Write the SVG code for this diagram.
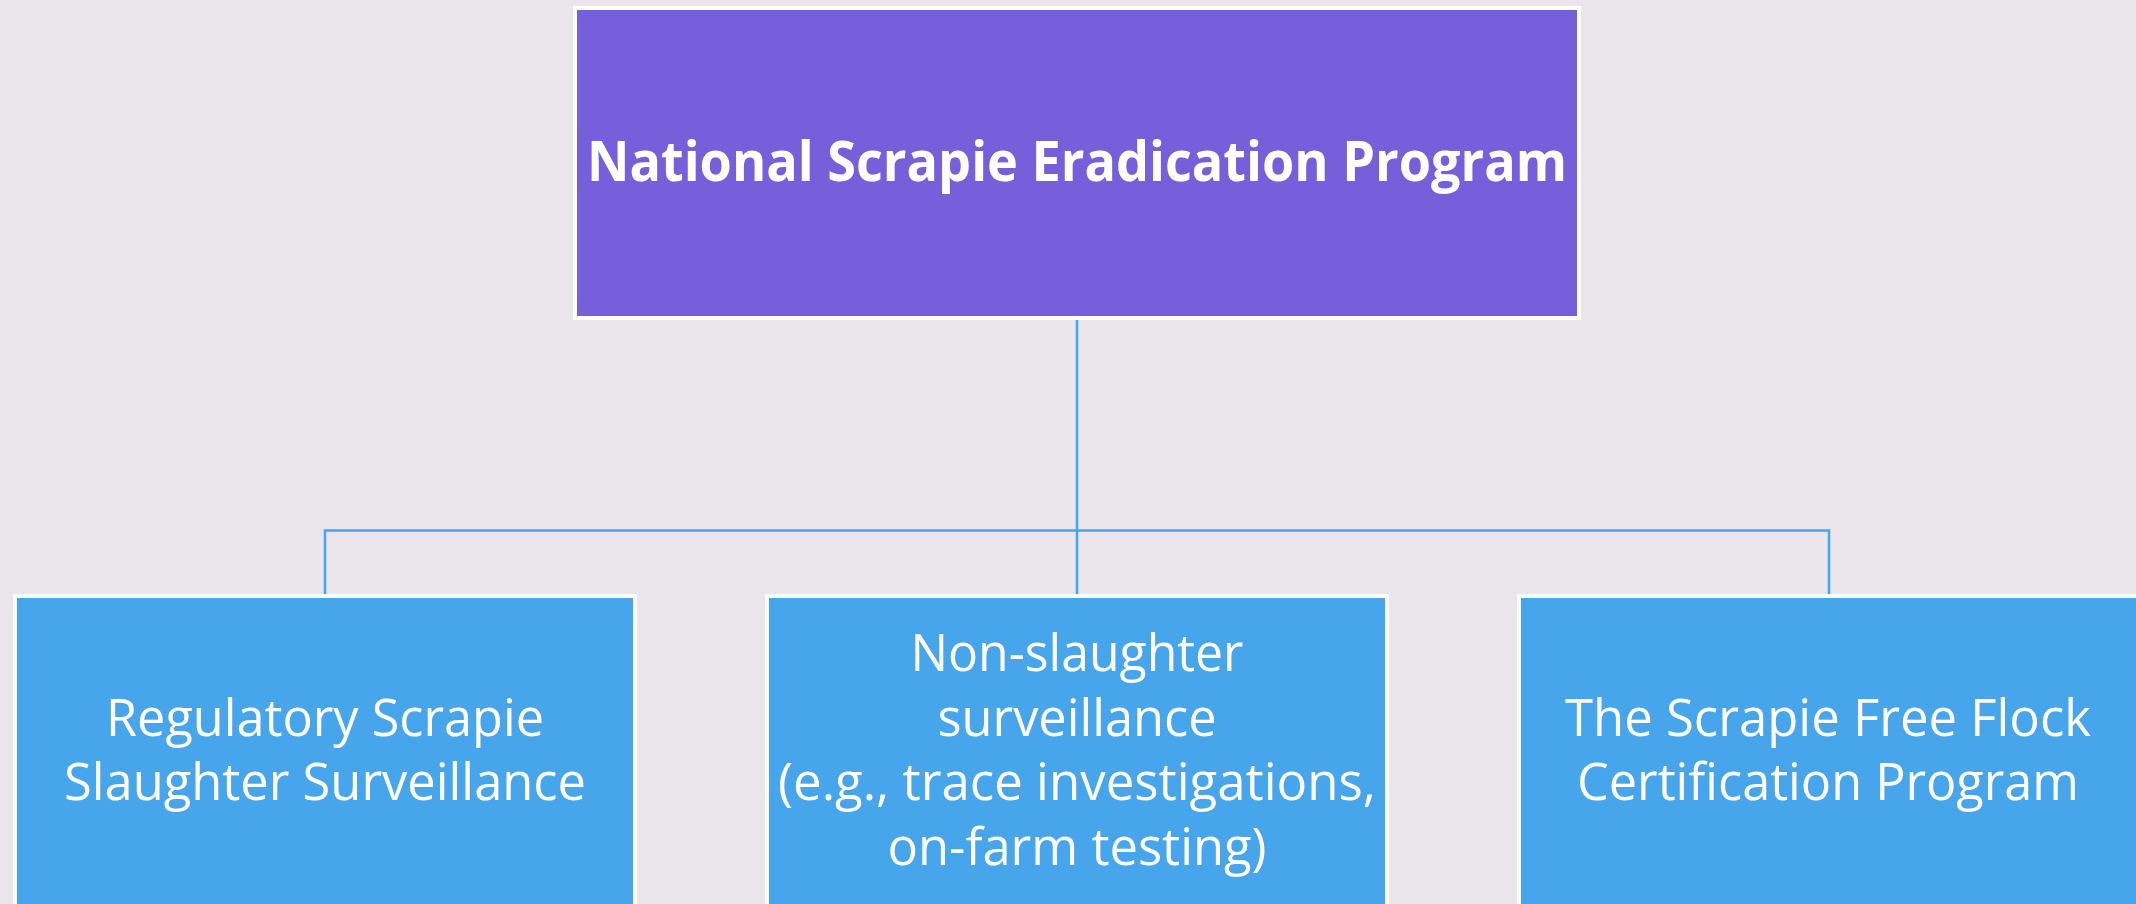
<svg xmlns="http://www.w3.org/2000/svg" width="2136" height="904" viewBox="0 0 2136 904">
  <style>
    .bg { fill: #E9E5EB; }
    .top { fill: #765FDB; stroke: #FFFFFF; stroke-width: 4; }
    .leaf { fill: #47A5EB; stroke: #FFFFFF; stroke-width: 4; }
    .conn { fill: none; stroke: #48A6EA; stroke-width: 2.5; }
    .title { font-family: "Open Sans", "Liberation Sans", sans-serif; font-weight: bold; font-size: 56px; fill: #FFFFFF; text-anchor: middle; }
    .lbl { font-family: "Open Sans", "Liberation Sans", sans-serif; font-size: 51px; fill: #FFFFFF; text-anchor: middle; }
  </style>
  <rect class="bg" x="0" y="0" width="2136" height="904"/>
  <g id="connectors">
    <path class="conn" d="M1077 320 V594"/>
    <path class="conn" d="M325 594 V530.5 H1829 V594"/>
  </g>
  <g id="node-root">
    <rect class="top" x="575" y="8" width="1004" height="310"/>
    <text class="title" x="1077" y="181" textLength="980" lengthAdjust="spacingAndGlyphs">National Scrapie Eradication Program</text>
  </g>
  <g id="node-slaughter">
    <rect class="leaf" x="15" y="596" width="620" height="330"/>
    <text class="lbl" x="325" y="735.7" textLength="438" lengthAdjust="spacingAndGlyphs">Regulatory Scrapie</text>
    <text class="lbl" x="325" y="800" textLength="522" lengthAdjust="spacingAndGlyphs">Slaughter Surveillance</text>
  </g>
  <g id="node-nonslaughter">
    <rect class="leaf" x="767" y="596" width="620" height="330"/>
    <text class="lbl" x="1077" y="670.7" textLength="333" lengthAdjust="spacingAndGlyphs">Non-slaughter</text>
    <text class="lbl" x="1077" y="735.7" textLength="279" lengthAdjust="spacingAndGlyphs">surveillance</text>
    <text class="lbl" x="1077" y="800" textLength="598" lengthAdjust="spacingAndGlyphs">(e.g., trace investigations,</text>
    <text class="lbl" x="1077" y="864.5" textLength="379" lengthAdjust="spacingAndGlyphs">on-farm testing)</text>
  </g>
  <g id="node-flock">
    <rect class="leaf" x="1519" y="596" width="620" height="330"/>
    <text class="lbl" x="1828" y="735.7" textLength="526" lengthAdjust="spacingAndGlyphs">The Scrapie Free Flock</text>
    <text class="lbl" x="1828" y="800" textLength="502" lengthAdjust="spacingAndGlyphs">Certification Program</text>
  </g>
</svg>
